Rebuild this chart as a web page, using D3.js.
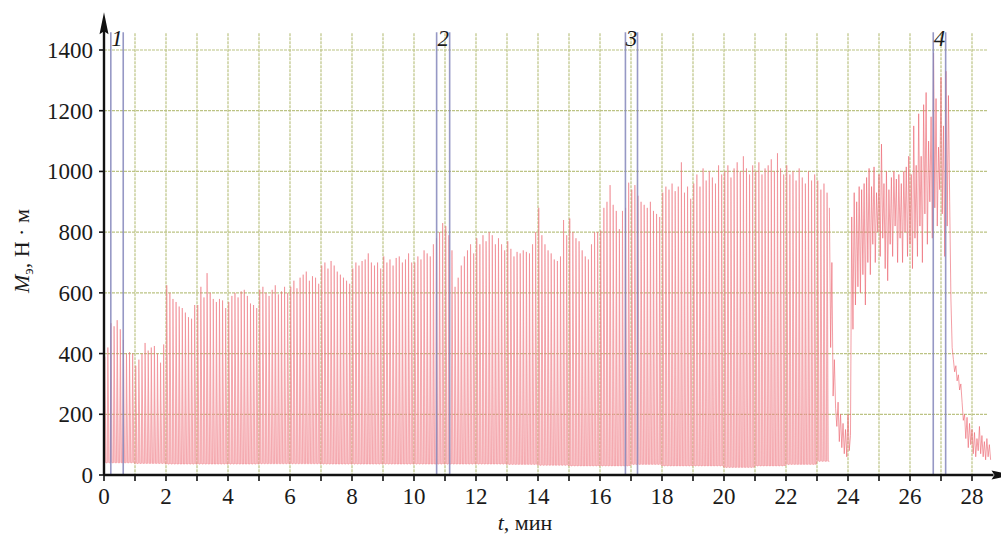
<!DOCTYPE html>
<html>
<head>
<meta charset="utf-8">
<script src="https://cdn.jsdelivr.net/npm/d3@7/dist/d3.min.js"></script>
<style>
  body { margin: 0; background: #fff; }
  svg { display: block; }
</style>
</head>
<body>
<svg id="chart" width="1001" height="537"></svg>
<script>
// ---- Data -------------------------------------------------------------
// Torque peaks of the working cycles, ten cycles per minute (Н·м)
const cyclePeriod = 0.1; // min
const peaks00to06 = [
  390, 420, 500, 490, 510, 480, 445, 400, 405, 400,
  360, 380, 400, 435, 410, 420, 425, 400, 370, 430,
  625, 600, 580, 570, 555, 550, 535, 520, 515, 560,
  560, 620, 585, 665, 600, 580, 570, 580, 575, 550,
  570, 590, 600, 585, 605, 610, 590, 565, 560, 550,
  610, 620, 600, 590, 610, 625, 595, 605, 620, 600
];
const peaks06to12 = [
  620, 640, 615, 650, 660, 670, 640, 655, 650, 630,
  690, 700, 680, 705, 690, 670, 660, 650, 640, 630,
  680, 700, 690, 705, 710, 730, 700, 690, 700, 680,
  720, 700, 710, 690, 715, 720, 700, 710, 730, 700,
  700, 720, 710, 740, 730, 720, 760, 780, 800, 830,
  820, 790, 740, 620, 650, 690, 720, 740, 760, 730
];
const peaks12to18 = [
  780, 760, 790, 770, 800, 790, 760, 780, 760, 740,
  770, 745, 720, 735, 730, 740, 735, 730, 760, 800,
  880, 790, 760, 740, 730, 710, 705, 720, 840, 790,
  845, 800, 780, 770, 740, 720, 710, 760, 800, 800,
  805, 880, 900, 955, 890, 870, 810, 870, 880, 963,
  940, 955, 920, 900, 890, 880, 900, 870, 860, 850
];
const peaks18to23 = [
  930, 950, 940, 960, 935, 950, 1030, 930, 950, 910,
  960, 990, 950, 1010, 970, 1000, 980, 960, 1020, 990,
  1000, 1020, 980, 1010, 1030, 1000, 1050, 1010, 990, 1020,
  1000, 1030, 990, 1010, 1020, 1040, 1000, 1060, 1010, 990,
  1020, 990, 1000, 970, 1010, 980, 960, 1000, 970, 990,
  970, 940, 960, 930
];
// Idle torque between cycles, one value per minute
const troughByMinute = [40, 38, 36, 36, 36, 37, 37, 36, 36, 36, 36, 36,
                        36, 35, 32, 30, 30, 35, 30, 30, 25, 30, 35, 45];

// Irregular parts of the record, sampled every 0.04 min
const sampleStep = 0.04;
const dropStart = 23.40;
const dropValues = [880, 420, 700, 260, 380, 220, 160, 240, 110, 200,
                    90, 170, 70, 150, 60, 200, 80, 130];
const burstStart = 24.12;
const burstValues = [
  850, 480, 930, 560, 900, 620, 950, 600, 940, 660,
  960, 560, 980, 700, 1010, 660, 950, 760, 1015, 700,
  930, 800, 990, 720, 1090, 780, 960, 680, 1000, 640,
  940, 760, 980, 720, 1000, 820, 975, 700, 990, 780,
  960, 700, 1000, 800, 1015, 720, 1050, 760, 990, 680,
  1150, 780, 1020, 720, 1190, 820, 1050, 700, 1220, 860,
  1260, 760, 1100, 900, 1180, 780, 1390, 880, 1240, 820,
  1080, 940, 1310, 860, 1150, 720, 1330, 820, 1250, 900
];
const decayStart = 27.32;
const decayValues = [580, 420, 380, 340, 360, 310, 330, 280, 300, 240,
                     180, 200, 120, 190, 90, 170, 100, 150, 70, 140,
                     60, 120, 80, 160, 70, 130, 60, 110, 50, 120,
                     60, 100, 50];

// Marked intervals
const markerLabels = ["1", "2", "3", "4"];
const markerStart = [0.22, 10.73, 16.82, 26.75];
const markerEnd   = [0.62, 11.15, 17.21, 27.15];

// Axis ticks
const xTickValues = d3.range(0, 29, 1);
const xTickLabels = [0, 2, 4, 6, 8, 10, 12, 14, 16, 18, 20, 22, 24, 26, 28];
const yTickValues = [0, 200, 400, 600, 800, 1000, 1200, 1400];

// ---- Layout -----------------------------------------------------------
const serif = "'Liberation Serif', 'DejaVu Serif', 'Times New Roman', serif";
const svg = d3.select("#chart");
const x = d3.scaleLinear().domain([0, 28]).range([104, 972]);
const y = d3.scaleLinear().domain([0, 1400]).range([475, 50]);
const xEnd = 28.5, yTop = 1475;

const gridColor = "#bcc384";
const g = svg.append("g");

// grid
g.append("g").selectAll("line").data(yTickValues.filter(v => v > 0)).join("line")
  .attr("x1", x(0)).attr("x2", x(xEnd))
  .attr("y1", d => y(d)).attr("y2", d => y(d))
  .attr("stroke", gridColor).attr("stroke-width", 1.2).attr("stroke-dasharray", "3,1");
g.append("g").selectAll("line").data(xTickValues.filter(v => v > 0)).join("line")
  .attr("x1", d => x(d)).attr("x2", d => x(d))
  .attr("y1", y(yTop) + 6).attr("y2", y(0))
  .attr("stroke", gridColor).attr("stroke-width", 1.2).attr("stroke-dasharray", "3,1");

// ---- Signal -----------------------------------------------------------
const cyclePeaks = [].concat(peaks00to06, peaks06to12, peaks12to18, peaks18to23);
const cyclePts = [];
cyclePeaks.forEach((p, i) => {
  const t0 = i * cyclePeriod;
  const base = troughByMinute[Math.min(troughByMinute.length - 1, Math.floor(t0))];
  cyclePts.push({ t: t0, v: base, b: base });
  cyclePts.push({ t: t0 + 0.025, v: p, b: base });
  cyclePts.push({ t: t0 + 0.065, v: base, b: base });
});
const lastBase = troughByMinute[troughByMinute.length - 1];
cyclePts.push({ t: dropStart, v: lastBase, b: lastBase });

const area = d3.area().x(d => x(d.t)).y0(d => y(d.b)).y1(d => y(d.v));
const line = d3.line().x(d => x(d.t)).y(d => y(d.v));

g.append("path").datum(cyclePts).attr("d", area)
  .attr("fill", "#f7b3b9").attr("fill-opacity", 0.7);
g.append("path").datum(cyclePts).attr("d", line)
  .attr("fill", "none").attr("stroke", "#ec6a75").attr("stroke-opacity", 0.55)
  .attr("stroke-width", 0.9);

const sampled = (start, vals) => vals.map((v, i) => ({ t: start + i * sampleStep, v }));
const tailPts = [].concat(
  sampled(dropStart, dropValues),
  sampled(burstStart, burstValues),
  sampled(decayStart, decayValues)
);
g.append("path").datum(tailPts).attr("d", line)
  .attr("fill", "none").attr("stroke", "#ec6a75").attr("stroke-opacity", 0.65)
  .attr("stroke-width", 1);

// ---- Markers ----------------------------------------------------------
const markers = markerLabels.map((l, i) => ({ l, a: markerStart[i], b: markerEnd[i] }));
const mk = g.append("g");
markers.forEach(m => {
  [m.a, m.b].forEach(t => {
    mk.append("line").attr("x1", x(t)).attr("x2", x(t))
      .attr("y1", y(yTop) + 5).attr("y2", y(0))
      .attr("stroke", "#8486bb").attr("stroke-opacity", 0.85).attr("stroke-width", 1.6);
  });
  mk.append("text").attr("x", (x(m.a) + x(m.b)) / 2).attr("y", y(1400) - 4)
    .attr("text-anchor", "middle").attr("font-style", "italic").attr("font-size", 23)
    .attr("font-family", serif).attr("fill", "#1a1a1a")
    .text(m.l);
});

// ---- Axes -------------------------------------------------------------
const ax = svg.append("g").attr("stroke", "#111");
ax.append("line").attr("x1", x(0)).attr("x2", x(xEnd) + 6).attr("y1", y(0)).attr("y2", y(0))
  .attr("stroke-width", 2.4);
ax.append("line").attr("x1", x(0)).attr("x2", x(0)).attr("y1", y(0)).attr("y2", y(yTop) - 2)
  .attr("stroke-width", 2.4);
// arrow heads at the ends of both axes
const xa = x(xEnd) + 26, ya = y(0);
svg.append("path").attr("fill", "#111")
  .attr("d", `M${xa},${ya} L${xa - 22},${ya - 4.5} L${xa - 19},${ya} L${xa - 22},${ya + 4.5} Z`);
const yx = x(0), yy = y(yTop) - 15;
svg.append("path").attr("fill", "#111")
  .attr("d", `M${yx},${yy} L${yx - 4.5},${yy + 22} L${yx},${yy + 19} L${yx + 4.5},${yy + 22} Z`);

// ticks
ax.append("g").selectAll("line").data(xTickValues).join("line")
  .attr("x1", d => x(d)).attr("x2", d => x(d)).attr("y1", y(0)).attr("y2", y(0) + 6)
  .attr("stroke-width", 1.6);
ax.append("g").selectAll("line").data(yTickValues).join("line")
  .attr("x1", x(0) - 5).attr("x2", x(0)).attr("y1", d => y(d)).attr("y2", d => y(d))
  .attr("stroke-width", 1.6);

// tick labels
const labels = svg.append("g").attr("font-family", serif).attr("fill", "#1a1a1a").attr("font-size", 23);
labels.append("g").selectAll("text").data(xTickLabels).join("text")
  .attr("x", d => x(d)).attr("y", y(0) + 29).attr("text-anchor", "middle")
  .text(d => d);
labels.append("g").selectAll("text").data(yTickValues).join("text")
  .attr("x", x(0) - 11).attr("y", d => y(d) + 8).attr("text-anchor", "end")
  .text(d => d);

// axis titles
const xt = labels.append("text").attr("x", 525).attr("y", 530)
  .attr("text-anchor", "middle").attr("font-size", 22);
xt.append("tspan").attr("font-style", "italic").text("t");
xt.append("tspan").text(", мин");

const yt = labels.append("text")
  .attr("transform", `translate(29,${(y(0) + y(yTop)) / 2}) rotate(-90)`)
  .attr("text-anchor", "middle").attr("font-size", 22);
yt.append("tspan").attr("font-style", "italic").text("M");
yt.append("tspan").attr("font-size", 15).attr("dy", 4).text("э");
yt.append("tspan").attr("dy", -4).text(", Н · м");
</script>
</body>
</html>
